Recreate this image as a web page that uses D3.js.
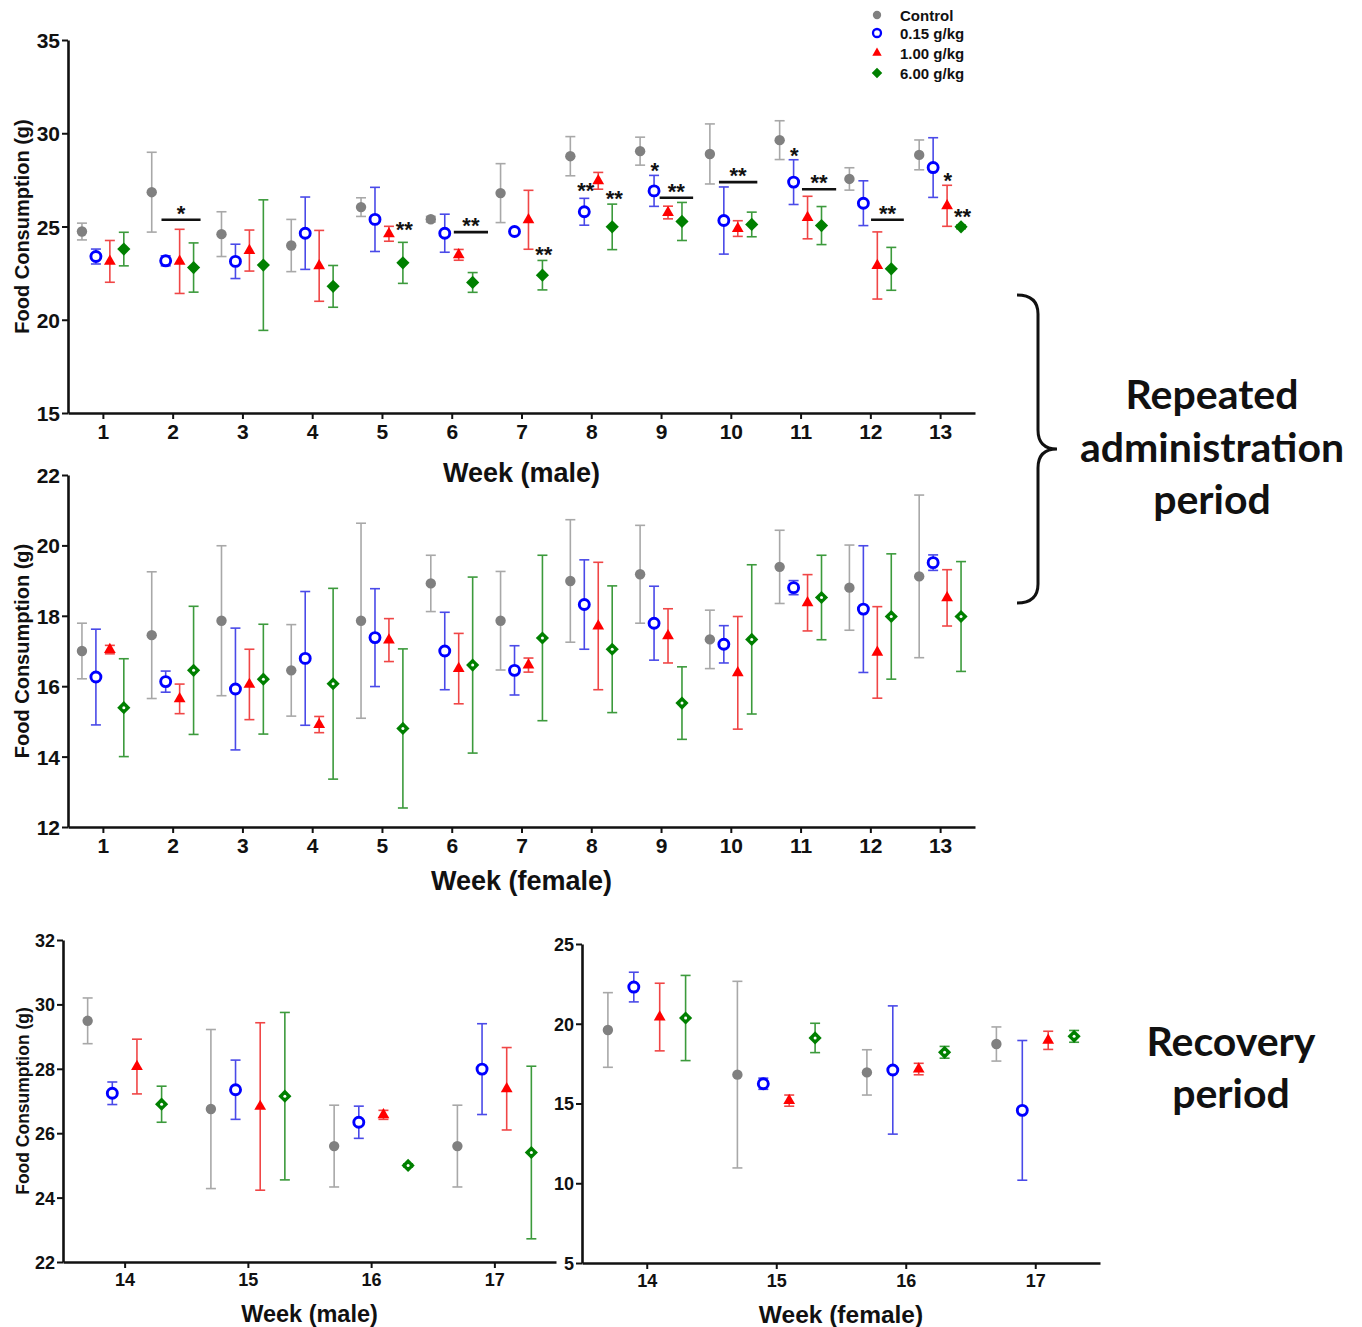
<!DOCTYPE html>
<html lang="en">
<head>
    <meta charset="UTF-8">
    <title>Food consumption by week</title>
    <script src="https://d3js.org/d3.v7.min.js"></script>
    <style>
        body, html { margin: 0; background: white; }
        svg { display: block; }
        text { font-family: "Liberation Sans", Arial, sans-serif; font-weight: bold; }
        .note { font-family: Lato, "Open Sans", sans-serif; font-weight: bold; }
    </style>
</head>
<body>
<svg id="chart" width="1362" height="1327"></svg>
<script>
    // ---- data (g, mean and SD) ----
    var groups = ["Control", "0.15 g/kg", "1.00 g/kg", "6.00 g/kg"];
    var weeksRep = [1, 2, 3, 4, 5, 6, 7, 8, 9, 10, 11, 12, 13];
    var weeksRec = [14, 15, 16, 17];

    var maleCtl   = [24.73, 26.84, 24.59, 23.98, 26.04, 25.39, 26.79, 28.77, 29.04, 28.89, 29.63, 27.55, 28.84];
    var maleCtlSd = [0.45, 2.14, 1.2, 1.4, 0.5, 0.15, 1.58, 1.05, 0.75, 1.61, 1.04, 0.6, 0.8];
    var maleLow   = [23.39, 23.16, 23.13, 24.64, 25.38, 24.64, 24.73, 25.79, 26.91, 25.32, 27.38, 26.25, 28.16];
    var maleLowSd = [0.4, 0.27, 0.92, 1.94, 1.72, 1.02, 0.1, 0.72, 0.83, 1.8, 1.2, 1.2, 1.6];
    var maleMid   = [23.13, 23.13, 23.71, 22.89, 24.61, 23.48, 25.36, 27.45, 25.75, 24.89, 25.48, 22.91, 26.11];
    var maleMidSd = [1.12, 1.72, 1.1, 1.9, 0.4, 0.29, 1.58, 0.45, 0.34, 0.42, 1.14, 1.8, 1.1];
    var maleHigh   = [23.79, 22.80, 22.93, 21.79, 23.05, 22.0, 22.39, 24.98, 25.27, 25.11, 25.05, 22.73, 24.98];
    var maleHighSd = [0.9, 1.32, 3.5, 1.12, 1.1, 0.53, 0.79, 1.22, 1.02, 0.66, 1.02, 1.15, 0.1];

    var femCtl   = [17.0, 17.45, 17.86, 16.45, 17.86, 18.92, 17.86, 18.99, 19.18, 17.33, 19.39, 18.80, 19.12];
    var femCtlSd = [0.79, 1.8, 2.13, 1.3, 2.77, 0.8, 1.4, 1.74, 1.39, 0.83, 1.04, 1.21, 2.31];
    var femLow   = [16.26, 16.13, 15.92, 16.79, 17.38, 17.0, 16.45, 18.32, 17.79, 17.19, 18.80, 18.19, 19.51];
    var femLowSd = [1.36, 0.3, 1.73, 1.9, 1.39, 1.1, 0.7, 1.27, 1.05, 0.53, 0.2, 1.8, 0.22];
    var femMid   = [17.04, 15.64, 16.05, 14.91, 17.31, 16.50, 16.60, 17.71, 17.43, 16.38, 18.37, 16.96, 18.51];
    var femMidSd = [0.12, 0.42, 1.0, 0.23, 0.61, 1.0, 0.2, 1.81, 0.77, 1.6, 0.8, 1.3, 0.8];
    var femHigh   = [15.39, 16.45, 16.20, 16.07, 14.80, 16.60, 17.37, 17.05, 15.52, 17.33, 18.52, 17.98, 17.98];
    var femHighSd = [1.39, 1.82, 1.56, 2.71, 2.26, 2.5, 2.35, 1.8, 1.03, 2.12, 1.2, 1.78, 1.56];

    var recMaleCtl = [29.49, 26.75, 25.60, 25.60],  recMaleCtlSd = [0.71, 2.47, 1.27, 1.27];
    var recMaleLow = [27.24, 27.35, 26.34, 27.99],  recMaleLowSd = [0.35, 0.92, 0.5, 1.41];
    var recMaleMid = [28.07, 26.83, 26.57, 27.38],  recMaleMidSd = [0.85, 2.6, 0.14, 1.28];
    var recMaleHigh = [26.90, 27.15, 25.0, 25.40],  recMaleHighSd = [0.56, 2.6, 0.05, 2.68];

    var recFemCtl = [19.61, 16.81, 16.95, 18.73],  recFemCtlSd = [2.34, 5.85, 1.42, 1.07];
    var recFemLow = [22.30, 16.24, 17.10, 14.57],  recFemLowSd = [0.93, 0.35, 4.02, 4.38];
    var recFemMid = [20.42, 15.18, 17.16, 18.96],  recFemMidSd = [2.12, 0.35, 0.36, 0.57];
    var recFemHigh = [20.36, 19.11, 18.21, 19.21], recFemHighSd = [2.67, 0.92, 0.37, 0.37];

    // significance marks on the male chart: bars [from week, to week, level g, label], stars [week, level g, label]
    var sigBars = [[1.84, 2.40, 25.36, "*"], [6.03, 6.52, 24.70, "**"], [8.98, 9.46, 26.54, "**"],
                   [9.83, 10.38, 27.38, "**"], [11.02, 11.51, 27.0, "**"], [12.01, 12.48, 25.36, "**"]];
    var sigStars = [[5.32, 25.08, "**"], [7.32, 23.74, "**"], [7.92, 27.17, "**"], [8.33, 26.74, "**"],
                    [8.91, 28.26, "*"], [10.91, 29.06, "*"], [13.11, 27.72, "*"], [13.32, 25.79, "**"]];

    var offsets = [-0.3, -0.1, 0.1, 0.3];
    var markColor = ["#808080", "#0000ff", "#ff0000", "#008000"];
    var barColor = ["#a8a8a8", "#4a4ae8", "#f04646", "#3c9a3c"];

    var svg = d3.select("#chart");

    function drawMarker(g, i, x, y, hollowDiamond, small) {
        var k = small ? 0.8 : 1;
        if (i === 0) {
            g.append("circle").attr("cx", x).attr("cy", y).attr("r", 5.2 * k).attr("fill", markColor[0]);
        } else if (i === 1) {
            g.append("circle").attr("cx", x).attr("cy", y).attr("r", 5 * k)
                .attr("fill", "white").attr("stroke", markColor[1]).attr("stroke-width", 2.9 * k);
        } else if (i === 2) {
            g.append("path").attr("d", d3.symbol(d3.symbolTriangle, 60 * k * k)())
                .attr("transform", "translate(" + x + "," + y + ")").attr("fill", markColor[2]);
        } else {
            var r = 6.6 * k;
            g.append("path").attr("d", "M0," + (-r) + "L" + r + ",0L0," + r + "L" + (-r) + ",0Z")
                .attr("transform", "translate(" + x + "," + y + ")").attr("fill", markColor[3]);
            if (hollowDiamond) {
                g.append("circle").attr("cx", x).attr("cy", y).attr("r", 1.5).attr("fill", "white");
            }
        }
    }

    function drawPanel(p) {
        var xScale = d3.scaleLinear().domain(p.xDom).range([p.l, p.r]);
        var yScale = d3.scaleLinear().domain(p.yDom).range([p.b, p.t]);
        var g = svg.append("g");

        var xAxis = d3.axisBottom(xScale).tickValues(p.weeks).tickFormat(d3.format("d"))
            .tickSize(6).tickSizeOuter(0).tickPadding(5);
        var yAxis = d3.axisLeft(yScale).tickValues(p.yTicks).tickFormat(d3.format("d"))
            .tickSize(6).tickSizeOuter(0).tickPadding(2);
        var gx = g.append("g").attr("transform", "translate(0," + p.b + ")").call(xAxis);
        var gy = g.append("g").attr("transform", "translate(" + p.l + ",0)").call(yAxis);
        [gx, gy].forEach(function (ax) {
            ax.select(".domain").attr("stroke-width", 2.6).attr("stroke", "#111");
            ax.selectAll(".tick line").attr("stroke-width", 2).attr("stroke", "#111");
            ax.selectAll(".tick text").attr("fill", "#111").style("font-size", p.fs + "px")
                .style("font-family", "'Liberation Sans', Arial, sans-serif").style("font-weight", "bold");
        });
        gy.selectAll(".tick text").attr("dy", "0.36em");

        p.series.forEach(function (s, i) {
            s.mean.forEach(function (m, j) {
                var x = xScale(p.weeks[j] + offsets[i]);
                var y0 = yScale(m - s.sd[j]), y1 = yScale(m + s.sd[j]);
                g.append("line").attr("x1", x).attr("x2", x).attr("y1", y0).attr("y2", y1)
                    .attr("stroke", barColor[i]).attr("stroke-width", 1.6);
                [y0, y1].forEach(function (yy) {
                    g.append("line").attr("x1", x - 5).attr("x2", x + 5).attr("y1", yy).attr("y2", yy)
                        .attr("stroke", barColor[i]).attr("stroke-width", 1.6);
                });
            });
        });
        p.series.forEach(function (s, i) {
            s.mean.forEach(function (m, j) {
                drawMarker(g, i, xScale(p.weeks[j] + offsets[i]), yScale(m), p.hollowDiamond, false);
            });
        });

        g.append("text").attr("x", (p.l + p.r) / 2).attr("y", p.titleY).attr("text-anchor", "middle")
            .attr("dominant-baseline", "central").style("font-size", p.titleFs + "px").attr("fill", "#111")
            .text(p.title);
        if (p.ylabel) {
            g.append("text").attr("transform", "translate(" + p.ylabelX + "," + ((p.t + p.b) / 2) + ") rotate(-90)")
                .attr("text-anchor", "middle").attr("dominant-baseline", "central")
                .style("font-size", p.ylabelFs + "px").attr("fill", "#111").text(p.ylabel);
        }
        return { x: xScale, y: yScale, g: g };
    }

    function series(m0, s0, m1, s1, m2, s2, m3, s3) {
        return [{ mean: m0, sd: s0 }, { mean: m1, sd: s1 }, { mean: m2, sd: s2 }, { mean: m3, sd: s3 }];
    }

    var malePanel = drawPanel({
        l: 68, r: 975, t: 40, b: 413, xDom: [0.5, 13.5], yDom: [15, 35], yTicks: [15, 20, 25, 30, 35],
        weeks: weeksRep, fs: 21, title: "Week (male)", titleY: 473, titleFs: 27,
        ylabel: "Food Consumption (g)", ylabelX: 22, ylabelFs: 20, hollowDiamond: false,
        series: series(maleCtl, maleCtlSd, maleLow, maleLowSd, maleMid, maleMidSd, maleHigh, maleHighSd)
    });

    drawPanel({
        l: 68, r: 975, t: 475, b: 827, xDom: [0.5, 13.5], yDom: [12, 22], yTicks: [12, 14, 16, 18, 20, 22],
        weeks: weeksRep, fs: 21, title: "Week (female)", titleY: 881, titleFs: 27,
        ylabel: "Food Consumption (g)", ylabelX: 22, ylabelFs: 20, hollowDiamond: true,
        series: series(femCtl, femCtlSd, femLow, femLowSd, femMid, femMidSd, femHigh, femHighSd)
    });

    drawPanel({
        l: 63, r: 556, t: 940, b: 1262, xDom: [13.5, 17.5], yDom: [22, 32], yTicks: [22, 24, 26, 28, 30, 32],
        weeks: weeksRec, fs: 18, title: "Week (male)", titleY: 1314, titleFs: 23.5,
        ylabel: "Food Consumption (g)", ylabelX: 23, ylabelFs: 17.5, hollowDiamond: true,
        series: series(recMaleCtl, recMaleCtlSd, recMaleLow, recMaleLowSd, recMaleMid, recMaleMidSd, recMaleHigh, recMaleHighSd)
    });

    drawPanel({
        l: 582, r: 1100, t: 944, b: 1263, xDom: [13.5, 17.5], yDom: [5, 25], yTicks: [5, 10, 15, 20, 25],
        weeks: weeksRec, fs: 18, title: "Week (female)", titleY: 1314, titleFs: 24.5,
        ylabel: null, hollowDiamond: true,
        series: series(recFemCtl, recFemCtlSd, recFemLow, recFemLowSd, recFemMid, recFemMidSd, recFemHigh, recFemHighSd)
    });

    // significance bars and asterisks (male, repeated administration)
    sigBars.forEach(function (d) {
        malePanel.g.append("line").attr("x1", malePanel.x(d[0])).attr("x2", malePanel.x(d[1]))
            .attr("y1", malePanel.y(d[2])).attr("y2", malePanel.y(d[2])).attr("stroke", "#111").attr("stroke-width", 2.6);
        malePanel.g.append("text").attr("x", (malePanel.x(d[0]) + malePanel.x(d[1])) / 2).attr("y", malePanel.y(d[2]) + 1)
            .attr("text-anchor", "middle").style("font-size", "22px").attr("fill", "#111").text(d[3]);
    });
    sigStars.forEach(function (d) {
        malePanel.g.append("text").attr("x", malePanel.x(d[0])).attr("y", malePanel.y(d[1]) + 12)
            .attr("text-anchor", "middle").style("font-size", "22px").attr("fill", "#111").text(d[2]);
    });

    // legend
    var legend = svg.append("g");
    groups.forEach(function (name, i) {
        var y = [15, 33, 53, 73][i];
        drawMarker(legend, i, 877, y, false, true);
        legend.append("text").attr("x", 900).attr("y", y).attr("dominant-baseline", "central")
            .style("font-size", "15px").attr("fill", "#111").text(name);
    });

    // brace and period notes
    svg.append("path")
        .attr("d", "M1017,295 Q1038,295 1038,314 L1038,430 Q1038,449 1057,449 Q1038,449 1038,468 L1038,584 Q1038,603 1017,603")
        .attr("fill", "none").attr("stroke", "#111").attr("stroke-width", 3);

    var notes = [["Repeated", 1212, 393], ["administration", 1212, 446], ["period", 1212, 498],
                 ["Recovery", 1231, 1040], ["period", 1231, 1092]];
    notes.forEach(function (d) {
        svg.append("text").attr("class", "note").attr("x", d[1]).attr("y", d[2])
            .attr("text-anchor", "middle").attr("dominant-baseline", "central")
            .style("font-size", "41px").attr("fill", "#111").text(d[0]);
    });
</script>
</body>
</html>
